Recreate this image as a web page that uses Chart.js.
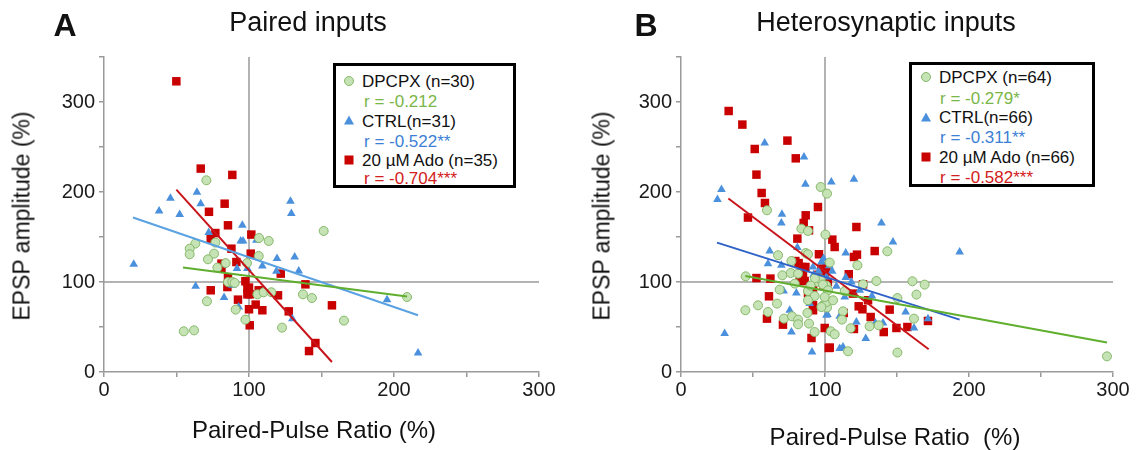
<!DOCTYPE html>
<html><head><meta charset="utf-8">
<script src="https://cdn.jsdelivr.net/npm/chart.js@4.4.0/dist/chart.umd.min.js"></script>
<style>
body{margin:0;background:#fff;width:1137px;height:450px;overflow:hidden;position:relative;font-family:"Liberation Sans",Arial,Helvetica,sans-serif;}
.cv{position:absolute;top:0;height:450px;}
.t{position:absolute;white-space:nowrap;color:#111;transform:translate(-50%,-50%);line-height:1;}
.lg{position:absolute;border:3px solid #000;box-sizing:border-box;background:#fff;}
.li{position:absolute;white-space:nowrap;font-size:17px;line-height:1;transform:translateY(-50%);}
.mk{position:absolute;transform:translate(-50%,-50%);}
.circ{width:8px;height:8px;border-radius:50%;background:#c6e3b5;border:1px solid #86b86a;}
.tri{width:0;height:0;border-left:5px solid transparent;border-right:5px solid transparent;border-bottom:9px solid #4a90dc;}
.sq{width:9px;height:9px;background:#c80000;}
</style>
</head><body>
<div id="wa" class="cv" style="left:0;width:570px;"><canvas id="ca"></canvas></div>
<div id="wb" class="cv" style="left:575px;width:562px;"><canvas id="cb"></canvas></div>

<div class="t" style="left:65px;top:25px;font-size:32px;font-weight:bold;">A</div>
<div class="t" style="left:646px;top:25px;font-size:32px;font-weight:bold;">B</div>
<div class="t" style="left:308px;top:22px;font-size:27px;">Paired inputs</div>
<div class="t" style="left:886px;top:22px;font-size:27px;">Heterosynaptic inputs</div>
<div class="t" style="left:22px;top:216px;font-size:23px;transform:translate(-50%,-50%) rotate(-90deg);">EPSP amplitude (%)</div>
<div class="t" style="left:602px;top:216px;font-size:23px;transform:translate(-50%,-50%) rotate(-90deg);">EPSP amplitude (%)</div>
<div class="t" style="left:314px;top:430px;font-size:24px;">Paired-Pulse Ratio (%)</div>
<div class="t" style="left:895px;top:437px;font-size:24px;">Paired-Pulse Ratio&nbsp;&nbsp;(%)</div>

<div class="lg" style="left:333px;top:63px;width:183px;height:125px;"></div>
<div class="mk circ" style="left:349px;top:81px;"></div>
<div class="li" style="left:362px;top:81px;color:#111;">DPCPX (n=30)</div>
<div class="li" style="left:364px;top:101px;color:#7ab648;">r = -0.212</div>
<div class="mk tri" style="left:349px;top:120px;"></div>
<div class="li" style="left:362px;top:121px;color:#111;">CTRL(n=31)</div>
<div class="li" style="left:364px;top:141px;color:#3c7fd4;">r = -0.522**</div>
<div class="mk sq" style="left:349px;top:160px;"></div>
<div class="li" style="left:362px;top:160px;color:#111;">20 µM Ado (n=35)</div>
<div class="li" style="left:364px;top:178px;color:#d22020;">r = -0.704***</div>

<div class="lg" style="left:909px;top:62px;width:186px;height:125px;"></div>
<div class="mk circ" style="left:926px;top:77px;"></div>
<div class="li" style="left:939px;top:77px;color:#111;">DPCPX (n=64)</div>
<div class="li" style="left:940px;top:98px;color:#7ab648;">r = -0.279*</div>
<div class="mk tri" style="left:926px;top:117px;"></div>
<div class="li" style="left:939px;top:117px;color:#111;">CTRL(n=66)</div>
<div class="li" style="left:940px;top:137px;color:#3c7fd4;">r = -0.311**</div>
<div class="mk sq" style="left:926px;top:157px;"></div>
<div class="li" style="left:939px;top:157px;color:#111;">20 µM Ado (n=66)</div>
<div class="li" style="left:940px;top:177px;color:#d22020;">r = -0.582***</div>

<script>
// ---------- Panel A: Paired inputs ----------
const aDpcpxX = [70.6,63,76.8,59.1,59.1,75.9,71.7,98.6,83.9,78.2,85.5,88.5,90.1,71,90.8,97.5,55,62.1,151.5,106.9,113.6,106.7,105.8,110.1,115.4,137.2,143.4,122.8,165.5,209];
const aDpcpxY = [213,142.7,143.8,137,130.8,131.5,125.2,121,121,116,100,100,99,78.6,69.3,58.2,45.2,46.3,156.7,148.9,145.6,128.9,86.3,88.6,88.6,86.3,82.2,49.3,57.1,83.3];
const aCtrlX = [64.1,45.8,66.7,38,52.2,95.4,72.2,94.3,95.9,20.5,91.7,98.9,88.5,63.2,82.8,92.9,128.6,129.2,105.1,119.3,131.5,109.2,118.9,134.3,129.9,195.2,216.6];
const aCtrlY = [199.7,193,187,179,175,163,154.9,145.6,145.6,119.7,114.9,114.9,96.3,95.2,82.7,72.2,189.7,176,146.3,126,127.8,117.8,111.9,112.2,59.3,80.4,21.1];
const aAdoX = [49.9,66.7,88.5,83.2,72.4,85.5,76.8,73.6,87.9,101.2,91.3,81,81,85.5,97.5,85.1,98.9,98.9,73.6,92.4,100,100.5,101.6,121.9,100,138.9,100.5,106.7,120,157.2,104.6,109.2,127.4,145.8,141.4];
const aAdoY = [323,226,219,187,178,163,154.4,148,137,131.5,122.2,120.4,114.9,104.9,100.8,94.4,92.7,86.3,90.8,80.4,69.7,51.9,152.7,109.3,93.8,97.4,86.3,90.8,85.2,74.1,74.9,68.6,67.4,32.2,23.3];
const aFitDpcpxX = [54.5,209], aFitDpcpxY = [116,84];
const aFitCtrlX = [20,216.6], aFitCtrlY = [171.6,63];
const aFitAdoX = [49.9,157.2], aFitAdoY = [202.7,11.1];

// ---------- Panel B: Heterosynaptic inputs ----------
const bDpcpxX = [97,101.4,59.7,83.6,88.2,100.3,67.4,86.6,88.2,76.7,70.4,76.2,81.3,44.9,79,95,97,101,68.5,88.2,92.8,88.2,66.7,53.5,44.7,60.4,98.6,101.4,101,87.8,71.5,77.1,81.3,81.3,88.9,92.8,103.3,122.5,143.3,126.4,135.7,160.7,169.2,113.7,163.5,150.3,105.6,112.5,161.8,111.8,131,137.3,117.8,104,106.7,116,150.3,295.8,98.6,102.1,99.8,97.5,93,90];
const bDpcpxY = [205.6,198.2,179.7,159.3,156.7,152.7,129.7,132.2,130.8,123.3,107.4,110,109.3,106.3,98.2,100,103,96,91.5,90,84.4,79.7,76,74.1,68.6,66.7,74.1,71.6,77.8,65.6,59.3,61.9,58.2,53,53.8,44.4,121.6,118.6,134.1,97.4,101.1,100.8,97.1,90,86,82.2,79.7,67.4,59.3,58.2,50.8,51.9,48.6,45.2,41.9,23,21.6,17.4,97.1,90.8,83.3,72.2,104,96];
const bCtrlX = [58.1,85.4,28.1,86.4,25.3,70.1,104.4,120.1,69.7,80.8,61.6,60.4,69.7,91.7,71.3,80.1,89.4,75.5,101,76.7,30.3,91,139.2,147.2,193.5,114.4,114.4,107.9,118.3,124.1,132.6,113.7,156,101.7,110.2,171.5,121.8,135,140.3,161.8,128.3,110.2,112.5,97.5,101,95.5,103,92,105,99];
const bCtrlY = [254.4,238.9,202.7,208.6,191.6,175.2,211.1,214.1,165.6,138.2,134.4,120.4,118.6,116.7,90,87.8,76,68.6,63,44.4,42.7,22.2,165.6,144.4,133.3,132.2,104.9,95.2,100,90.8,84.4,83.3,66.7,63.8,61.9,59.3,55.6,54.4,54.4,48.9,37.1,26,27.8,122.2,105.6,112,118,108,112,126];
const bAdoX = [33.1,42.6,73.9,51.2,79.7,52.4,56,58.3,95.1,86.6,46.5,85.2,88.9,80.8,95.8,79.4,81.7,84,86.4,97.5,83.6,84.7,85.9,82.4,52.4,62.1,88.2,91.7,61.1,91.7,91.7,59.7,70.8,99.8,90.6,102.6,121.8,105.1,106.7,134.5,120.1,122.2,116.5,126.4,119.4,129.9,123.4,126,144.9,113,131.7,171.5,157.2,149.6,120.1,140.8,103.3,98,100,96,102,99,95,101];
const bAdoY = [290,274.9,257.1,247.8,237.4,219.3,198.9,187.8,183.3,174.1,171.6,165.6,157.4,148.2,130.8,123.3,121,116.7,116.7,114.9,111.1,106.3,101.1,101.1,104.4,103.8,87.8,93.8,84.1,74.1,68.6,59.3,52.6,48.9,37.8,26.7,161.1,147.1,138.9,134.4,127.8,130.4,108.6,97.4,87.1,79.7,73,69.7,69.3,65.6,61.1,56.7,50,48.9,47.8,44.4,27.1,112,108,104,100,96,108,117];
const bFitDpcpxX = [44.7,295.8], bFitDpcpxY = [106.7,32.7];
const bFitCtrlX = [25,193.5], bFitCtrlY = [143.8,58.2];
const bFitAdoX = [32.9,172], bFitAdoY = [192.7,25.2];

// reference lines at 100 %
const refVX = [100,100], refVY = [0,350];
const refHX = [0,300], refHY = [100,100];

const xTicks = [0,100,200,300];
const yTicks = [0,100,200,300];

function pts(xs, ys){ return xs.map((x,i)=>({x:x, y:ys[i]})); }

const GREEN_FILL='#c6e3b5', GREEN_EDGE='#86b86a', BLUE='#4a90dc', RED='#c80000';

function panel(canvasId, d, yW, padR, ctrlLine){
  const ds = [
    {type:'line', data:pts(refVX,refVY), borderColor:'#9a9a9a', borderWidth:1.5, pointRadius:0, order:20},
    {type:'line', data:pts(refHX,refHY), borderColor:'#9a9a9a', borderWidth:1.5, pointRadius:0, order:20},
    {data:pts(d.dx,d.dy), pointStyle:'circle', pointRadius:4.5, backgroundColor:GREEN_FILL, borderColor:GREEN_EDGE, borderWidth:1, order:5},
    {data:pts(d.cx,d.cy), pointStyle:'triangle', pointRadius:5, backgroundColor:BLUE, borderColor:BLUE, borderWidth:0, order:5},
    {data:pts(d.ax,d.ay), pointStyle:'rect', pointRadius:6, backgroundColor:RED, borderColor:RED, borderWidth:0, order:5},
    {type:'line', data:pts(d.fdx,d.fdy), borderColor:'#5fae2e', borderWidth:2, pointRadius:0, order:1},
    {type:'line', data:pts(d.fcx,d.fcy), borderColor:ctrlLine, borderWidth:2, pointRadius:0, order:1},
    {type:'line', data:pts(d.fax,d.fay), borderColor:'#c8141a', borderWidth:2, pointRadius:0, order:1}
  ];
  return new Chart(document.getElementById(canvasId), {
    type:'scatter',
    data:{datasets:ds},
    options:{
      responsive:true, maintainAspectRatio:false, animation:false,
      layout:{padding:{left:0, right:padR, top:57, bottom:0}},
      plugins:{legend:{display:false}, tooltip:{enabled:false}},
      scales:{
        x:{type:'linear', min:0, max:300,
           afterFit:(s)=>{s.height=78;},
           border:{display:true, color:'#9a9a9a', width:1.5},
           grid:{display:true, drawOnChartArea:false, drawTicks:true, tickLength:5, color:'#9a9a9a', lineWidth:1.5},
           ticks:{stepSize:50, autoSkip:false, maxRotation:0, padding:1, color:'#1a1a1a',
                  font:{family:'"Liberation Sans", Arial, sans-serif', size:20},
                  callback:(v)=> xTicks.includes(v) ? String(v) : ''}},
        y:{type:'linear', min:0, max:350,
           afterFit:(s)=>{s.width=yW;},
           border:{display:true, color:'#9a9a9a', width:1.5},
           grid:{display:true, drawOnChartArea:false, drawTicks:true, tickLength:5, color:'#9a9a9a', lineWidth:1.5},
           ticks:{stepSize:50, autoSkip:false, padding:4, color:'#1a1a1a',
                  font:{family:'"Liberation Sans", Arial, sans-serif', size:20},
                  callback:(v)=> yTicks.includes(v) ? String(v) : ''}}
      }
    }
  });
}

panel('ca', {dx:aDpcpxX, dy:aDpcpxY, cx:aCtrlX, cy:aCtrlY, ax:aAdoX, ay:aAdoY,
  fdx:aFitDpcpxX, fdy:aFitDpcpxY, fcx:aFitCtrlX, fcy:aFitCtrlY, fax:aFitAdoX, fay:aFitAdoY}, 104, 31, '#5aa2e2');
panel('cb', {dx:bDpcpxX, dy:bDpcpxY, cx:bCtrlX, cy:bCtrlY, ax:bAdoX, ay:bAdoY,
  fdx:bFitDpcpxX, fdy:bFitDpcpxY, fcx:bFitCtrlX, fcy:bFitCtrlY, fax:bFitAdoX, fay:bFitAdoY}, 106, 24, '#2f62c8');
</script>
</body></html>
